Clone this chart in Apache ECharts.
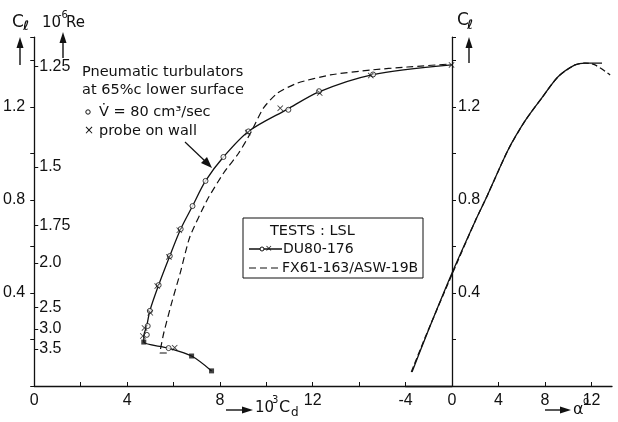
<!DOCTYPE html>
<html>
<head>
<meta charset="utf-8">
<script src="https://cdn.jsdelivr.net/npm/echarts@6/dist/echarts.min.js"></script>
<style>
  html, body { margin: 0; padding: 0; background: #fff; }
  #chart { width: 618px; height: 422px; }
</style>
</head>
<body>
<div id="chart"></div>
<script>
// drag polar, DU80-176 (10^3 Cd, Cl)
const duCd = [7.64, 6.78, 5.79, 4.72, 4.72, 4.85, 4.98, 5.36, 5.84, 6.31, 6.82, 7.38, 8.15, 9.23, 10.9, 12.27, 14.55, 17.98];
const duCl = [0.065, 0.129, 0.163, 0.189, 0.215, 0.26, 0.323, 0.434, 0.559, 0.675, 0.774, 0.882, 0.985, 1.095, 1.19, 1.265, 1.338, 1.381];
// measured points: circles (turbulators), crosses (probe on wall), filled squares
const circCd = [5.79, 4.85, 4.89, 4.98, 5.36, 5.84, 6.31, 6.82, 7.38, 8.15, 9.23, 10.95, 12.27, 14.6, 18.2];
const circCl = [0.163, 0.22, 0.258, 0.323, 0.434, 0.559, 0.675, 0.774, 0.882, 0.985, 1.095, 1.188, 1.268, 1.34, 1.39];
const crossCd = [4.68, 4.75, 5.0, 5.3, 5.8, 6.25, 6.05, 9.2, 10.6, 12.3, 14.5, 17.98];
const crossCl = [0.215, 0.25, 0.315, 0.43, 0.555, 0.67, 0.165, 1.09, 1.195, 1.26, 1.335, 1.381];
const sqCd = [7.64, 6.78, 4.72];
const sqCl = [0.065, 0.129, 0.189];
// drag polar, FX61-163/ASW-19B
const fxCd = [5.71, 5.41, 5.46, 5.58, 5.9, 6.3, 6.7, 7.45, 8.16, 8.81, 9.32, 9.88, 10.48, 11.34, 12.76, 14.48, 16.07, 17.91];
const fxCl = [0.142, 0.142, 0.169, 0.228, 0.35, 0.49, 0.64, 0.80, 0.916, 1.002, 1.088, 1.196, 1.260, 1.303, 1.338, 1.359, 1.372, 1.385];
// lift curves (alpha deg, Cl)
const duAlpha = [-3.44, -2.15, 0, 2.0, 3.0, 4.82, 6.28, 7.74, 9.12, 10.58, 11.44, 12.9];
const duLift = [0.060, 0.225, 0.486, 0.71, 0.815, 1.015, 1.14, 1.24, 1.33, 1.381, 1.389, 1.389];
const fxAlpha = [-3.5, -2.2, 0, 2.0, 3.0, 4.82, 6.28, 7.74, 9.12, 10.58, 11.44, 12.3, 13.6];
const fxLift = [0.060, 0.222, 0.480, 0.71, 0.815, 1.015, 1.14, 1.24, 1.33, 1.381, 1.389, 1.381, 1.338];
// tick labels
const cdLabels = [0, 4, 8, 12];
const clLabels = [0.4, 0.8, 1.2];
const reLabels = ['1.25', '1.5', '1.75', '2.0', '2.5', '3.0', '3.5'];
const reClPos = [1.375, 0.942, 0.692, 0.530, 0.338, 0.245, 0.159];

const zip = (a, b) => a.map((v, i) => [v, b[i]]);
const near = (v, arr) => arr.some(t => Math.abs(v - t) < 1e-6);

const numFont = "'Liberation Sans Narrow', 'Liberation Sans', sans-serif";
const txtFont = "'DejaVu Sans', sans-serif";
const ink = '#111';

const chart = echarts.init(document.getElementById('chart'));

function arrowUp(x, y0, y1) {
  return [
    { type: 'line', shape: { x1: x, y1: y0, x2: x, y2: y1 + 9 }, style: { stroke: ink, lineWidth: 1.4 } },
    { type: 'polygon', shape: { points: [[x, y1], [x - 3.5, y1 + 11], [x + 3.5, y1 + 11]] }, style: { fill: ink } }
  ];
}
function arrowRight(x0, x1, y) {
  return [
    { type: 'line', shape: { x1: x0, y1: y, x2: x1 - 9, y2: y }, style: { stroke: ink, lineWidth: 1.4 } },
    { type: 'polygon', shape: { points: [[x1, y], [x1 - 11, y - 3.5], [x1 - 11, y + 3.5]] }, style: { fill: ink } }
  ];
}
function txt(x, y, s, size, font, z) {
  return {
    type: 'text', x: x, y: y, z: z || 5,
    style: { text: s, fill: ink, font: font || (size + 'px ' + txtFont), verticalAlign: 'middle' }
  };
}

const crossPath = 'path://M0,1L1,0L5,4L9,0L10,1L6,5L10,9L9,10L5,6L1,10L0,9L4,5Z';

const option = {
  backgroundColor: '#fff',
  animation: false,
  grid: [
    { left: 33, top: 37.25, width: 419, height: 348.75 },
    { left: 405.5, top: 37.25, width: 206.5, height: 348.75 }
  ],
  xAxis: [
    {
      gridIndex: 0, type: 'value', min: 0, max: 18, interval: 2,
      axisLine: { lineStyle: { color: ink, width: 1.3 } },
      axisTick: { inside: true, length: 4, lineStyle: { color: ink } },
      splitLine: { show: false },
      axisLabel: {
        color: ink, fontSize: 16, fontFamily: numFont, margin: 7,
        formatter: v => near(v, cdLabels) ? String(v) : ''
      }
    },
    {
      gridIndex: 1, type: 'value', min: -4, max: 13.76, interval: 4,
      axisLine: { lineStyle: { color: ink, width: 1.3 } },
      axisTick: { inside: true, length: 4, lineStyle: { color: ink } },
      splitLine: { show: false },
      axisLabel: { color: ink, fontSize: 16, fontFamily: numFont, margin: 7, showMaxLabel: false }
    }
  ],
  yAxis: [
    {
      gridIndex: 0, type: 'value', min: 0, max: 1.5, interval: 0.2,
      axisLine: { lineStyle: { color: ink, width: 1.3 } },
      axisTick: { length: 4, lineStyle: { color: ink } },
      splitLine: { show: false },
      axisLabel: {
        color: ink, fontSize: 16, fontFamily: numFont, margin: 9,
        formatter: v => near(v, clLabels) ? v.toFixed(1) : ''
      }
    },
    {
      gridIndex: 0, type: 'value', min: 0, max: 1.5, position: 'left',
      axisLine: { show: false },
      axisTick: { inside: true, length: 4, customValues: reClPos, lineStyle: { color: ink } },
      splitLine: { show: false },
      axisLabel: {
        inside: true, color: ink, fontSize: 16, fontFamily: numFont, margin: 5,
        customValues: reClPos,
        formatter: v => {
          let best = 0;
          reClPos.forEach((p, i) => { if (Math.abs(p - v) < Math.abs(reClPos[best] - v)) best = i; });
          return reLabels[best];
        }
      }
    },
    {
      // right Cl axis sits at alpha = 0
      gridIndex: 1, type: 'value', min: 0, max: 1.5, interval: 0.2,
      position: 'left', offset: -46.5,
      axisLine: { onZero: false, lineStyle: { color: ink, width: 1.3 } },
      axisTick: { inside: true, length: 4, lineStyle: { color: ink } },
      splitLine: { show: false },
      axisLabel: {
        inside: true, color: ink, fontSize: 16, fontFamily: numFont, margin: 6,
        formatter: v => near(v, clLabels) ? v.toFixed(1) : ''
      }
    }
  ],
  series: [
    {
      name: 'DU80-176', type: 'line', xAxisIndex: 0, yAxisIndex: 0,
      data: zip(duCd, duCl), smooth: 0.3, showSymbol: false,
      lineStyle: { color: ink, width: 1.3 }
    },
    {
      name: 'FX61-163/ASW-19B', type: 'line', xAxisIndex: 0, yAxisIndex: 0,
      data: zip(fxCd, fxCl), smooth: 0.2, showSymbol: false,
      lineStyle: { color: ink, width: 1.2, type: [7, 4] }
    },
    {
      type: 'scatter', xAxisIndex: 0, yAxisIndex: 0, data: zip(circCd, circCl),
      symbol: 'circle', symbolSize: 5, z: 4,
      itemStyle: { color: '#fff', borderColor: ink, borderWidth: 1 }
    },
    {
      type: 'scatter', xAxisIndex: 0, yAxisIndex: 0, data: zip(crossCd, crossCl),
      symbol: crossPath, symbolSize: 6, z: 5, itemStyle: { color: ink }
    },
    {
      type: 'scatter', xAxisIndex: 0, yAxisIndex: 0, data: zip(sqCd, sqCl),
      symbol: 'rect', symbolSize: 5, itemStyle: { color: ink }
    },
    {
      name: 'DU80-176 lift', type: 'line', xAxisIndex: 1, yAxisIndex: 2,
      data: zip(duAlpha, duLift), smooth: 0.25, showSymbol: false,
      lineStyle: { color: ink, width: 1.3 }
    },
    {
      name: 'FX61 lift', type: 'line', xAxisIndex: 1, yAxisIndex: 2,
      data: zip(fxAlpha, fxLift), smooth: 0.25, showSymbol: false,
      lineStyle: { color: ink, width: 1.3, type: [6, 3] }
    }
  ],
  graphic: [
    // left axis titles
    txt(12, 23, 'C', 17),
    txt(23, 27, 'ℓ', 13, 'bold italic 13px ' + txtFont),
    ...arrowUp(20, 65, 37),
    txt(42, 23, '10', 15),
    txt(58, 15, '-6', 10),
    txt(66, 23, 'Re', 15),
    ...arrowUp(63, 58, 32),
    // right axis title
    txt(457, 21, 'C', 17),
    txt(467, 26, 'ℓ', 13, 'bold italic 13px ' + txtFont),
    ...arrowUp(469, 63, 37),
    // x axis titles
    ...arrowRight(226, 253, 410),
    txt(255, 408, '10', 15),
    txt(272, 400, '3', 10),
    txt(279, 408, 'C', 16),
    txt(291, 413, 'd', 12),
    ...arrowRight(545, 571, 410),
    txt(573, 410, 'α', 16),
    txt(583, 401, 'o', 10),
    // annotation
    txt(82, 72, 'Pneumatic turbulators', 14.5),
    txt(82, 90, 'at 65%c lower surface', 14.5),
    { type: 'circle', shape: { cx: 88, cy: 112, r: 2.2 }, style: { fill: '#fff', stroke: ink, lineWidth: 1 } },
    txt(99, 112, 'V̇ = 80 cm³/sec', 14.5),
    txt(84, 131, '×', 12),
    txt(99, 131, 'probe on wall', 14.5),
    { type: 'line', shape: { x1: 185, y1: 142, x2: 206, y2: 162 }, style: { stroke: ink, lineWidth: 1.2 } },
    { type: 'polygon', shape: { points: [[212, 168], [201, 163], [207, 157]] }, style: { fill: ink } },
    // legend box
    { type: 'rect', z: 10, shape: { x: 243, y: 218, width: 180, height: 60 }, style: { fill: '#fff', stroke: ink, lineWidth: 1 } },
    txt(270, 231, 'TESTS : LSL', 14.5, null, 11),
    { type: 'line', z: 11, shape: { x1: 249, y1: 249, x2: 282, y2: 249 }, style: { stroke: ink, lineWidth: 1.3 } },
    { type: 'circle', z: 12, shape: { cx: 262, cy: 249, r: 2 }, style: { fill: '#fff', stroke: ink, lineWidth: 1 } },
    txt(265, 249, '×', 9, null, 12),
    txt(283, 249, 'DU80-176', 14, null, 11),
    { type: 'line', z: 11, shape: { x1: 249, y1: 268, x2: 281, y2: 268 }, style: { stroke: ink, lineWidth: 1.2, lineDash: [7, 4] } },
    txt(282, 268, 'FX61-163/ASW-19B', 14, null, 11)
  ]
};

chart.setOption(option);
</script>
</body>
</html>
